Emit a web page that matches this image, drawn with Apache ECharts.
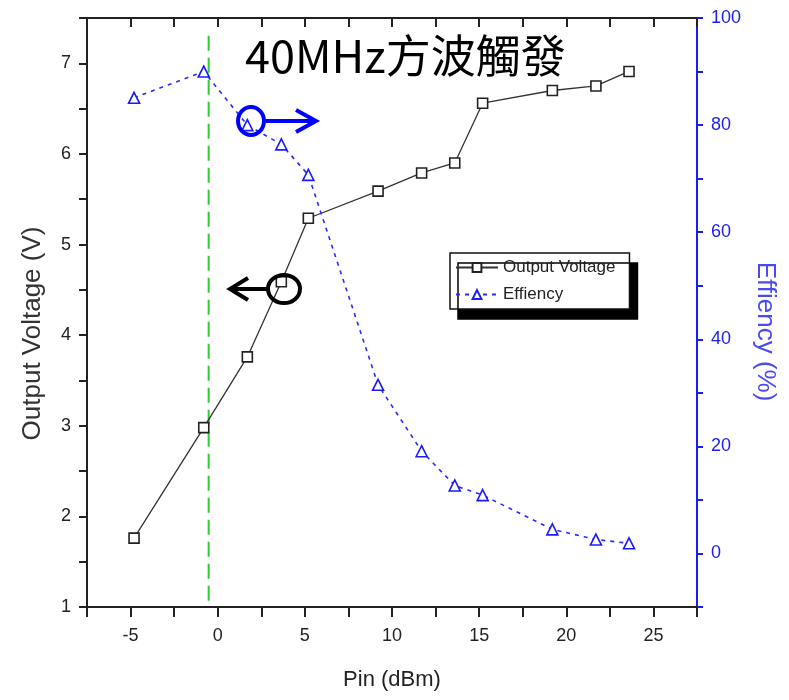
<!DOCTYPE html>
<html>
<head>
<meta charset="utf-8">
<script src="https://cdn.jsdelivr.net/npm/echarts@6/dist/echarts.min.js"></script>
<style>
  html, body { margin: 0; padding: 0; background: #fff; }
  #grafico { width: 789px; height: 700px; }
</style>
</head>
<body>
<div id="grafico"></div>
<script>
// Dados
var pinDbm = [-4.8, -0.8, 1.7, 3.65, 5.2, 9.2, 11.7, 13.6, 15.2, 19.2, 21.7, 23.6];
var outputVoltage = [1.76, 2.98, 3.76, 4.59, 5.29, 5.59, 5.79, 5.90, 6.56, 6.70, 6.75, 6.91];
var efficiency = [85.1, 90.0, 80.0, 76.4, 70.7, 31.5, 19.1, 12.7, 10.9, 4.5, 2.6, 1.9];
var seriesNames = ['Output Voltage', 'Effiency'];
// linha vertical verde (x, y inicial, y final)
var markerX = -0.52;
var markerY = [1.07, 7.35];

var labelFont = "'Liberation Sans', Arial, sans-serif";
var nameFont = "'Liberation Sans', Arial, sans-serif";

function zip(xs, ys) {
    return xs.map(function (x, i) { return [x, ys[i]]; });
}

var chartDom = document.getElementById('grafico');
var myChart = echarts.init(chartDom);
var option = {
    animation: false,
    backgroundColor: '#fff',
    grid: { left: 87, right: 92, top: 18, bottom: 93 },
    legend: {
        data: seriesNames,
        orient: 'vertical',
        left: 450,
        top: 253,
        padding: [6, 14, 6, 5],
        itemGap: 10,
        itemWidth: 42,
        itemHeight: 11,
        backgroundColor: '#fff',
        borderColor: '#111',
        borderWidth: 1.5,
        borderRadius: 0,
        shadowColor: '#000',
        shadowBlur: 0,
        shadowOffsetX: 8,
        shadowOffsetY: 10,
        textStyle: { fontSize: 17, color: '#222', fontFamily: nameFont }
    },
    xAxis: [
        {
            type: 'value',
            min: -7.5,
            max: 27.5,
            interval: 2.5,
            name: 'Pin (dBm)',
            nameLocation: 'middle',
            nameGap: 62,
            nameTextStyle: { fontSize: 22, color: '#222', fontFamily: nameFont },
            axisLine: { onZero: false, lineStyle: { color: '#222', width: 2 } },
            axisTick: { length: 10, lineStyle: { color: '#222', width: 2 } },
            axisLabel: {
                margin: 20,
                fontSize: 18,
                color: '#222',
                fontFamily: labelFont,
                formatter: function (v) { return v % 5 === 0 ? String(v) : ''; }
            },
            splitLine: { show: false }
        },
        {
            type: 'value',
            position: 'top',
            min: -7.5,
            max: 27.5,
            interval: 2.5,
            axisLine: { onZero: false, lineStyle: { color: '#222', width: 2 } },
            axisTick: { inside: true, length: 9, lineStyle: { color: '#222', width: 2 } },
            axisLabel: { show: false },
            splitLine: { show: false }
        }
    ],
    yAxis: [
        {
            type: 'value',
            position: 'left',
            min: 1,
            max: 7.5,
            interval: 0.5,
            name: 'Output Voltage (V)',
            nameLocation: 'middle',
            nameRotate: 90,
            nameGap: 41,
            nameTextStyle: { fontSize: 26, color: '#333', fontFamily: nameFont, padding: [0, 42, 0, 0] },
            axisLine: { show: true, onZero: false, lineStyle: { color: '#222', width: 2 } },
            axisTick: { show: true, length: 8, lineStyle: { color: '#222', width: 2 } },
            axisLabel: {
                margin: 16,
                fontSize: 18,
                color: '#222',
                fontFamily: labelFont,
                formatter: function (v) { return Number.isInteger(v) && v <= 7 ? String(v) : ''; }
            },
            splitLine: { show: false }
        },
        {
            type: 'value',
            position: 'right',
            min: -10,
            max: 100,
            interval: 10,
            name: 'Effiency (%)',
            nameLocation: 'middle',
            nameRotate: -90,
            nameGap: 51,
            nameTextStyle: { fontSize: 26, color: '#4a4af2', fontFamily: nameFont, padding: [0, 0, 0, 38] },
            axisLine: { show: true, onZero: false, lineStyle: { color: '#1a1aff', width: 2 } },
            axisTick: { show: true, length: 6, lineStyle: { color: '#1a1aff', width: 2 } },
            axisLabel: {
                margin: 14,
                fontSize: 18,
                color: '#2020ee',
                fontFamily: labelFont,
                formatter: function (v) { return v >= 0 && v % 20 === 0 ? String(v) : ''; }
            },
            splitLine: { show: false }
        }
    ],
    series: [
        {
            name: 'Output Voltage',
            type: 'line',
            xAxisIndex: 0,
            yAxisIndex: 0,
            data: zip(pinDbm, outputVoltage),
            symbol: 'rect',
            symbolSize: 10,
            lineStyle: { color: '#333', width: 1.3 },
            itemStyle: { color: '#fff', borderColor: '#222', borderWidth: 1.6 },
            z: 3
        },
        {
            name: 'Effiency',
            type: 'line',
            xAxisIndex: 0,
            yAxisIndex: 1,
            data: zip(pinDbm, efficiency),
            symbol: 'triangle',
            symbolSize: 11,
            lineStyle: { color: '#2a2aff', width: 1.6, type: [4, 5] },
            itemStyle: { color: '#fff', borderColor: '#1a1aff', borderWidth: 1.6 },
            z: 3
        },
        {
            name: 'marker',
            type: 'line',
            xAxisIndex: 0,
            yAxisIndex: 0,
            data: [[markerX, markerY[0]], [markerX, markerY[1]]],
            symbol: 'none',
            silent: true,
            lineStyle: { color: '#2ecc2e', width: 2, type: [15, 7] },
            z: 2
        }
    ],
    graphic: [
        {
            type: 'text',
            left: 245,
            top: 33,
            style: {
                text: '40MHz方波觸發',
                font: "45px 'Noto Sans CJK TC'",
                fill: '#000'
            },
            z: 10
        },
        // círculo e seta azul (eixo da direita)
        {
            type: 'ellipse',
            shape: { cx: 251, cy: 121, rx: 13, ry: 14 },
            style: { fill: 'none', stroke: '#0000ff', lineWidth: 4 },
            z: 10
        },
        {
            type: 'polyline',
            shape: { points: [[266, 121], [315, 121]] },
            style: { stroke: '#0000ff', lineWidth: 4 },
            z: 10
        },
        {
            type: 'polyline',
            shape: { points: [[296, 110], [316, 121], [296, 132]] },
            style: { stroke: '#0000ff', lineWidth: 4, fill: 'none' },
            z: 10
        },
        // círculo e seta preta (eixo da esquerda)
        {
            type: 'ellipse',
            shape: { cx: 284, cy: 289, rx: 16, ry: 14 },
            style: { fill: 'none', stroke: '#000', lineWidth: 4 },
            z: 10
        },
        {
            type: 'polyline',
            shape: { points: [[267, 289], [232, 289]] },
            style: { stroke: '#000', lineWidth: 4 },
            z: 10
        },
        {
            type: 'polyline',
            shape: { points: [[248, 278], [230, 289], [248, 300]] },
            style: { stroke: '#000', lineWidth: 4, fill: 'none' },
            z: 10
        }
    ]
};

option && myChart.setOption(option);
</script>
</body>
</html>
